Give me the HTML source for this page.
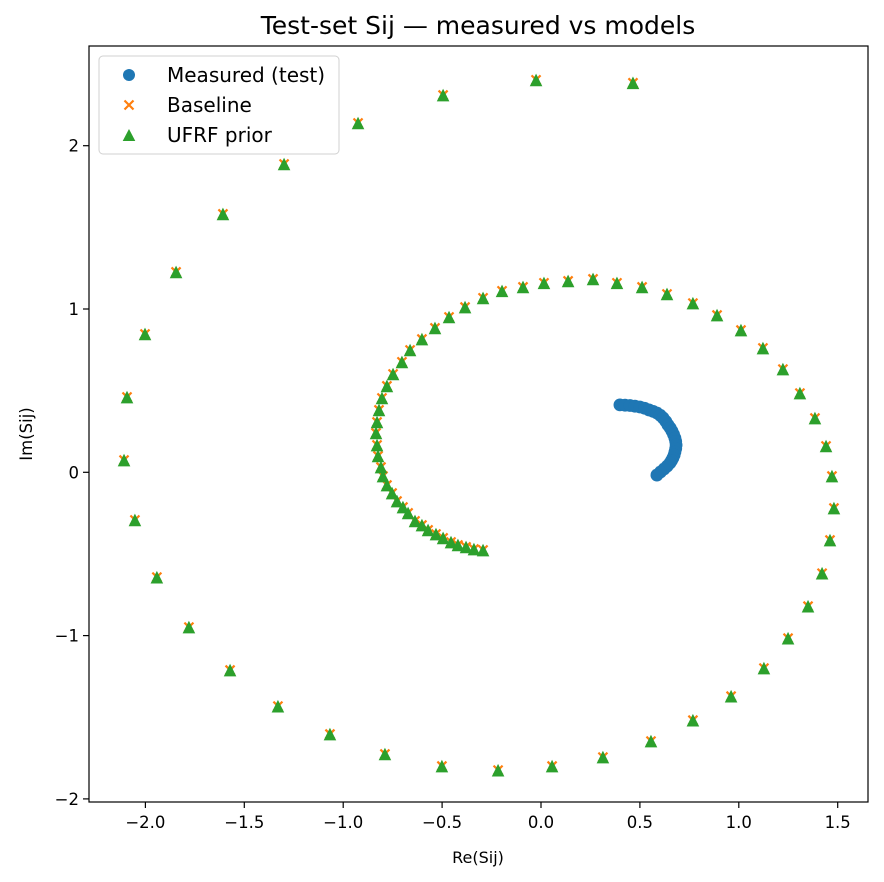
<!DOCTYPE html>
<html><head><meta charset="utf-8"><style>
html,body{margin:0;padding:0;background:#fff;}
svg{display:block;font-family:"DejaVu Sans","Liberation Sans",sans-serif;}
</style></head><body>
<svg id="chart" width="884" height="882" viewBox="0 0 884 882">
<rect width="884" height="882" fill="#fff"/>
<text x="478" y="34" font-size="25" text-anchor="middle" fill="#000">Test-set Sij — measured vs models</text>
<g id="plot"></g>
<g id="axes"></g>
<text x="478" y="863" font-size="16" text-anchor="middle">Re(Sij)</text>
<text transform="translate(32,434) rotate(-90)" font-size="16.5" text-anchor="middle">Im(Sij)</text>
<g>
<rect x="99" y="56" width="240" height="98" rx="4" fill="#fff" fill-opacity="0.8" stroke="#d0d0d0"/>
<g>
<circle cx="129" cy="75" r="6" fill="#1f77b4"/>
<text x="167" y="82" font-size="20">Measured (test)</text></g>
<g>
<path d="M124.5 100.5L133.5 109.5M133.5 100.5L124.5 109.5" stroke="#ff7f0e" stroke-width="2.2"/>
<text x="167" y="112" font-size="20">Baseline</text></g>
<g>
<path d="M129 129L135.3 141L122.7 141Z" fill="#2ca02c"/>
<text x="167" y="142" font-size="20">UFRF prior</text></g>
</g>
</svg>
<script>
const measuredRe=[0.399,0.425,0.450,0.475,0.500,0.524,0.546,0.567,0.586,0.603,0.617,0.631,0.642,0.653,0.662,0.670,0.677,0.681,0.683,0.681,0.677,0.673,0.667,0.660,0.652,0.638,0.622,0.604,0.586];
const measuredIm=[0.413,0.411,0.409,0.405,0.400,0.392,0.382,0.373,0.363,0.349,0.333,0.312,0.290,0.272,0.253,0.232,0.210,0.189,0.167,0.145,0.124,0.106,0.088,0.072,0.057,0.038,0.020,0.002,-0.017];
const priorRe=[0.465,-0.025,-0.495,-0.925,-1.299,-1.608,-1.845,-2.002,-2.093,-2.108,-2.053,-1.942,-1.780,-1.572,-1.330,-1.067,-0.789,-0.501,-0.217,0.056,0.313,0.556,0.768,0.961,1.127,1.249,1.350,1.421,1.461,1.481,1.471,1.441,1.385,1.309,1.223,1.122,1.011,0.890,0.768,0.637,0.511,0.384,0.263,0.137,0.015,-0.091,-0.197,-0.293,-0.384,-0.465,-0.536,-0.602,-0.662,-0.703,-0.748,-0.779,-0.804,-0.819,-0.829,-0.834,-0.829,-0.824,-0.809,-0.799,-0.779,-0.753,-0.728,-0.698,-0.672,-0.637,-0.602,-0.571,-0.531,-0.495,-0.455,-0.420,-0.379,-0.339,-0.293];
const priorIm=[2.385,2.403,2.310,2.139,1.888,1.582,1.227,0.847,0.461,0.075,-0.292,-0.642,-0.948,-1.211,-1.432,-1.603,-1.725,-1.799,-1.824,-1.799,-1.744,-1.646,-1.518,-1.371,-1.199,-1.016,-0.820,-0.618,-0.415,-0.219,-0.023,0.161,0.332,0.485,0.632,0.761,0.871,0.963,1.036,1.092,1.135,1.160,1.184,1.172,1.160,1.135,1.111,1.068,1.012,0.951,0.884,0.816,0.749,0.676,0.602,0.529,0.455,0.382,0.308,0.241,0.167,0.100,0.032,-0.023,-0.078,-0.127,-0.176,-0.213,-0.249,-0.298,-0.323,-0.353,-0.378,-0.402,-0.427,-0.445,-0.457,-0.470,-0.476];
const baselineRe=[0.465,-0.025,-0.495,-0.925,-1.299,-1.608,-1.845,-2.002,-2.093,-2.108,-2.053,-1.942,-1.780,-1.572,-1.330,-1.067,-0.789,-0.501,-0.217,0.056,0.313,0.556,0.768,0.961,1.127,1.249,1.350,1.421,1.461,1.481,1.471,1.441,1.385,1.309,1.223,1.122,1.011,0.890,0.768,0.637,0.511,0.384,0.263,0.137,0.015,-0.091,-0.197,-0.293,-0.384,-0.465,-0.536,-0.602,-0.662,-0.703,-0.748,-0.779,-0.804,-0.819,-0.829,-0.834,-0.829,-0.824,-0.809,-0.799,-0.779,-0.753,-0.728,-0.698,-0.672,-0.637,-0.602,-0.571,-0.531,-0.495,-0.455,-0.420,-0.379,-0.339,-0.293];
const baselineIm=[2.385,2.403,2.310,2.139,1.888,1.582,1.227,0.847,0.461,0.075,-0.292,-0.642,-0.948,-1.211,-1.432,-1.603,-1.725,-1.799,-1.824,-1.799,-1.744,-1.646,-1.518,-1.371,-1.199,-1.016,-0.820,-0.618,-0.415,-0.219,-0.023,0.161,0.332,0.485,0.632,0.761,0.871,0.963,1.036,1.092,1.135,1.160,1.184,1.172,1.160,1.135,1.111,1.068,1.012,0.951,0.884,0.816,0.749,0.676,0.602,0.529,0.455,0.382,0.308,0.241,0.167,0.100,0.032,-0.023,-0.078,-0.127,-0.176,-0.213,-0.249,-0.298,-0.323,-0.353,-0.378,-0.402,-0.427,-0.445,-0.457,-0.470,-0.476];
const xTicks=[-2.0,-1.5,-1.0,-0.5,0.0,0.5,1.0,1.5];
const xTickLabels=["\u22122.0","\u22121.5","\u22121.0","\u22120.5","0.0","0.5","1.0","1.5"];
const yTicks=[-2,-1,0,1,2];
const yTickLabels=["\u22122","\u22121","0","1","2"];

const L=89,R=868,T=46,B=802;
function xs(v){return 541+v*197.8;}
function ys(v){return 472.3-v*163.3;}
const NS="http://www.w3.org/2000/svg";
function mk(tag,attrs,parent){const e=document.createElementNS(NS,tag);for(const k in attrs)e.setAttribute(k,attrs[k]);parent.appendChild(e);return e;}
const plot=document.getElementById('plot');
const axes=document.getElementById('axes');

const gM=mk('g',{},plot);


measuredRe.forEach((v,i)=>{
  const c=mk('circle',{cx:xs(v),cy:ys(measuredIm[i]),r:6.4,fill:'#1f77b4'},gM);
  
  
});
const gB=mk('g',{},plot);


baselineRe.forEach((v,i)=>{
  const x=xs(v),y=ys(baselineIm[i]),d=4.5;
  const p=mk('path',{d:`M${x-d} ${y-d}L${x+d} ${y+d}M${x+d} ${y-d}L${x-d} ${y+d}`,stroke:'#ff7f0e','stroke-width':2.2},gB);
  
  
});
const gP=mk('g',{},plot);


priorRe.forEach((v,i)=>{
  const x=xs(v),y=ys(priorIm[i]),h=6.3;
  const p=mk('path',{d:`M${x} ${y-h}L${x+h} ${y+h}L${x-h} ${y+h}Z`,fill:'#2ca02c'},gP);
  
  
});

const frame=mk('rect',{x:L,y:T,width:R-L,height:B-T,fill:'none',stroke:'#000','stroke-width':1.2},axes);


xTicks.forEach((v,i)=>{
  const x=xs(v);
  const t=mk('line',{x1:x,x2:x,y1:B,y2:B+6,stroke:'#000','stroke-width':1.2},axes);
  
  
  const l=mk('text',{x:x,y:B+26,'font-size':16.5,'text-anchor':'middle'},axes);
  l.textContent=xTickLabels[i];
  
  
});
yTicks.forEach((v,i)=>{
  const y=ys(v);
  const t=mk('line',{x1:L-6,x2:L,y1:y,y2:y,stroke:'#000','stroke-width':1.2},axes);
  
  
  const l=mk('text',{x:L-10,y:y+6,'font-size':16.5,'text-anchor':'end'},axes);
  l.textContent=yTickLabels[i];
  
  
});
</script>
</body></html>
